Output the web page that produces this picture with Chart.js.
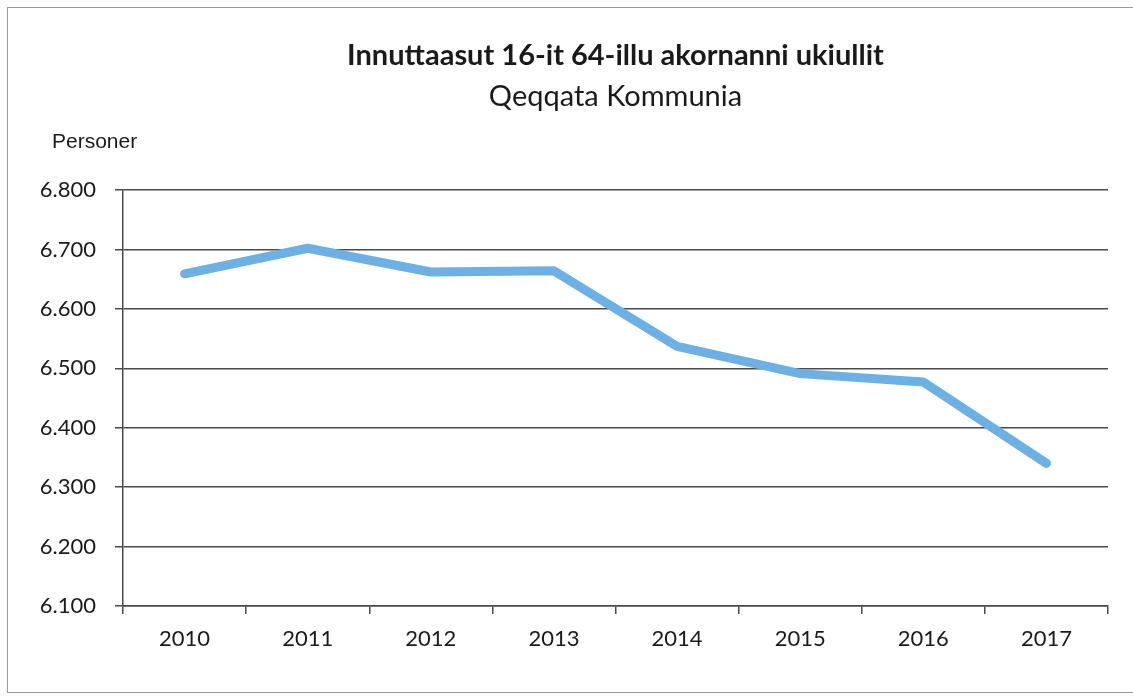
<!DOCTYPE html>
<html>
<head>
<meta charset="utf-8">
<script src="https://cdn.jsdelivr.net/npm/chart.js@4/dist/chart.umd.min.js"></script>
<style>
  body { margin: 0; background: #fff; }
  #wrap { width: 1133px; height: 696px; }
</style>
</head>
<body>
<div id="wrap"><canvas id="myChart" width="1133" height="696"></canvas></div>
<script>
var years = ["2010", "2011", "2012", "2013", "2014", "2015", "2016", "2017"];
var personer = [6659, 6702, 6662, 6664, 6537, 6491, 6477, 6340];
var titleText = "Innuttaasut 16-it 64-illu akornanni ukiullit";
var subtitleText = "Qeqqata Kommunia";
var axisLabel = "Personer";

var fontName = "Lato, 'Open Sans', sans-serif";

// frame + titles drawn on the canvas
var textPlugin = {
  id: "texts",
  beforeDraw: function(chart) {
    var ctx = chart.ctx;
    ctx.save();
    ctx.fillStyle = "#fff";
    ctx.fillRect(0, 0, chart.width, chart.height);
    ctx.strokeStyle = "#9a9a9a";
    ctx.lineWidth = 1;
    ctx.strokeRect(7.5, 7.5, 1130, 685);
    ctx.restore();
  },
  afterDraw: function(chart) {
    var ctx = chart.ctx;
    var area = chart.chartArea;
    var cx = (area.left + area.right) / 2;
    ctx.save();
    ctx.fillStyle = "#1a1a1a";
    ctx.textAlign = "center";
    ctx.textBaseline = "alphabetic";
    ctx.font = "bold 29px " + fontName;
    ctx.fillText(titleText, cx, 65);
    ctx.font = "29px " + fontName;
    ctx.fillText(subtitleText, cx, 106);
    ctx.textAlign = "left";
    ctx.font = "21px 'Liberation Sans', Arial, sans-serif";
    ctx.fillText(axisLabel, 52, 148);
    ctx.restore();
  }
};

new Chart("myChart", {
  type: "line",
  data: {
    labels: years,
    datasets: [{
      data: personer,
      borderColor: "#6db0e3",
      borderWidth: 9,
      borderCapStyle: "round",
      borderJoinStyle: "round",
      pointRadius: 0,
      fill: false,
      tension: 0
    }]
  },
  options: {
    responsive: false,
    animation: false,
    layout: { padding: { left: 0, top: 190, right: 25, bottom: 0 } },
    plugins: {
      legend: { display: false },
      title: { display: false },
      tooltip: { enabled: false }
    },
    scales: {
      x: {
        offset: true,
        afterFit: function(s) { s.height = 90; },
        grid: {
          offset: true,
          drawOnChartArea: false,
          drawTicks: true,
          tickLength: 8,
          color: "#4a4a4a",
          lineWidth: 1.5
        },
        border: { display: true, color: "#4a4a4a", width: 1.5 },
        ticks: {
          color: "#1a1a1a",
          padding: 12,
          font: { family: fontName, size: 22 }
        }
      },
      y: {
        min: 6100,
        max: 6800,
        afterFit: function(s) { s.width = 123; },
        grid: {
          color: "#4a4a4a",
          lineWidth: 1.5,
          tickLength: 8
        },
        border: { display: true, color: "#4a4a4a", width: 1.5 },
        ticks: {
          stepSize: 100,
          color: "#1a1a1a",
          padding: 19,
          font: { family: fontName, size: 22 },
          callback: function(v) { return (v / 1000).toFixed(3); }
        }
      }
    }
  },
  plugins: [textPlugin]
});
</script>
</body>
</html>
